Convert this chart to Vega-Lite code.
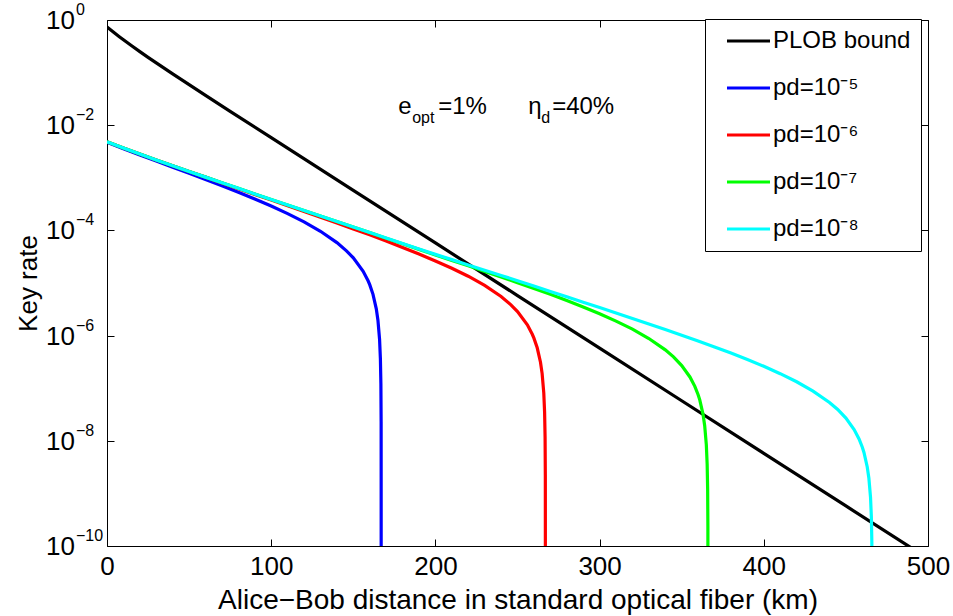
{
  "$schema": "https://vega.github.io/schema/vega-lite/v6.json",
  "width": 821,
  "height": 526,
  "autosize": {"type": "none"},
  "padding": {"left": 107, "top": 20, "right": 25, "bottom": 70},
  "background": "white",
  "config": {
    "font": "Liberation Sans",
    "view": {"stroke": "black", "strokeWidth": 1},
    "axis": {"grid": false, "domain": false, "tickColor": "black", "labelColor": "black", "titleColor": "black", "titleFontWeight": "normal", "labelFont": "Liberation Sans", "titleFont": "Liberation Sans"}
  },
  "datasets": {
    "curves": [
      {"s": "PLOB bound", "L": 0, "r": 0.737},
      {"s": "PLOB bound", "L": 2.5, "r": 0.636},
      {"s": "PLOB bound", "L": 5, "r": 0.5516},
      {"s": "PLOB bound", "L": 7.5, "r": 0.4804},
      {"s": "PLOB bound", "L": 10, "r": 0.4196},
      {"s": "PLOB bound", "L": 15, "r": 0.3229},
      {"s": "PLOB bound", "L": 20, "r": 0.2502},
      {"s": "PLOB bound", "L": 25, "r": 0.1951},
      {"s": "PLOB bound", "L": 30, "r": 0.1528},
      {"s": "PLOB bound", "L": 40, "r": 0.0945},
      {"s": "PLOB bound", "L": 50, "r": 0.0589},
      {"s": "PLOB bound", "L": 60, "r": 0.03688},
      {"s": "PLOB bound", "L": 75, "r": 0.01837},
      {"s": "PLOB bound", "L": 100, "r": 0.005782},
      {"s": "PLOB bound", "L": 150, "r": 5.771e-4},
      {"s": "PLOB bound", "L": 200, "r": 5.771e-5},
      {"s": "PLOB bound", "L": 250, "r": 5.771e-6},
      {"s": "PLOB bound", "L": 300, "r": 5.771e-7},
      {"s": "PLOB bound", "L": 350, "r": 5.771e-8},
      {"s": "PLOB bound", "L": 400, "r": 5.771e-9},
      {"s": "PLOB bound", "L": 450, "r": 5.771e-10},
      {"s": "PLOB bound", "L": 500, "r": 5.771e-11},

      {"s": "pd=10⁻⁵", "L": 0, "r": 4.710e-3},
      {"s": "pd=10⁻⁵", "L": 10, "r": 3.565e-3},
      {"s": "pd=10⁻⁵", "L": 20, "r": 2.716e-3},
      {"s": "pd=10⁻⁵", "L": 30, "r": 2.080e-3},
      {"s": "pd=10⁻⁵", "L": 40, "r": 1.589e-3},
      {"s": "pd=10⁻⁵", "L": 50, "r": 1.216e-3},
      {"s": "pd=10⁻⁵", "L": 60, "r": 9.268e-4},
      {"s": "pd=10⁻⁵", "L": 70, "r": 7.031e-4},
      {"s": "pd=10⁻⁵", "L": 80, "r": 5.309e-4},
      {"s": "pd=10⁻⁵", "L": 90, "r": 3.954e-4},
      {"s": "pd=10⁻⁵", "L": 100, "r": 2.904e-4},
      {"s": "pd=10⁻⁵", "L": 110, "r": 2.089e-4},
      {"s": "pd=10⁻⁵", "L": 120, "r": 1.455e-4},
      {"s": "pd=10⁻⁵", "L": 130, "r": 9.638e-5},
      {"s": "pd=10⁻⁵", "L": 140, "r": 5.861e-5},
      {"s": "pd=10⁻⁵", "L": 146, "r": 4.050e-5},
      {"s": "pd=10⁻⁵", "L": 150, "r": 3.006e-5},
      {"s": "pd=10⁻⁵", "L": 156, "r": 1.671e-5},
      {"s": "pd=10⁻⁵", "L": 159, "r": 1.103e-5},
      {"s": "pd=10⁻⁵", "L": 160, "r": 9.311e-6},
      {"s": "pd=10⁻⁵", "L": 162, "r": 6.081e-6},
      {"s": "pd=10⁻⁵", "L": 164, "r": 3.221e-6},
      {"s": "pd=10⁻⁵", "L": 165, "r": 1.963e-6},
      {"s": "pd=10⁻⁵", "L": 166, "r": 8.453e-7},
      {"s": "pd=10⁻⁵", "L": 166.5, "r": 3.656e-7},
      {"s": "pd=10⁻⁵", "L": 166.8, "r": 1.216e-7},
      {"s": "pd=10⁻⁵", "L": 166.95, "r": 2.301e-8},
      {"s": "pd=10⁻⁵", "L": 167, "r": 1e-12},

      {"s": "pd=10⁻⁶", "L": 0, "r": 4.831e-3},
      {"s": "pd=10⁻⁶", "L": 10, "r": 3.690e-3},
      {"s": "pd=10⁻⁶", "L": 20, "r": 2.832e-3},
      {"s": "pd=10⁻⁶", "L": 30, "r": 2.188e-3},
      {"s": "pd=10⁻⁶", "L": 40, "r": 1.698e-3},
      {"s": "pd=10⁻⁶", "L": 50, "r": 1.321e-3},
      {"s": "pd=10⁻⁶", "L": 60, "r": 1.030e-3},
      {"s": "pd=10⁻⁶", "L": 70, "r": 7.962e-4},
      {"s": "pd=10⁻⁶", "L": 80, "r": 6.209e-4},
      {"s": "pd=10⁻⁶", "L": 90, "r": 4.842e-4},
      {"s": "pd=10⁻⁶", "L": 100, "r": 3.784e-4},
      {"s": "pd=10⁻⁶", "L": 110, "r": 2.951e-4},
      {"s": "pd=10⁻⁶", "L": 120, "r": 2.296e-4},
      {"s": "pd=10⁻⁶", "L": 130, "r": 1.786e-4},
      {"s": "pd=10⁻⁶", "L": 140, "r": 1.384e-4},
      {"s": "pd=10⁻⁶", "L": 150, "r": 1.069e-4},
      {"s": "pd=10⁻⁶", "L": 160, "r": 8.222e-5},
      {"s": "pd=10⁻⁶", "L": 170, "r": 6.281e-5},
      {"s": "pd=10⁻⁶", "L": 180, "r": 4.753e-5},
      {"s": "pd=10⁻⁶", "L": 190, "r": 3.556e-5},
      {"s": "pd=10⁻⁶", "L": 200, "r": 2.624e-5},
      {"s": "pd=10⁻⁶", "L": 210, "r": 1.910e-5},
      {"s": "pd=10⁻⁶", "L": 220, "r": 1.346e-5},
      {"s": "pd=10⁻⁶", "L": 230, "r": 8.995e-6},
      {"s": "pd=10⁻⁶", "L": 240, "r": 5.534e-6},
      {"s": "pd=10⁻⁶", "L": 246, "r": 3.846e-6},
      {"s": "pd=10⁻⁶", "L": 250, "r": 2.864e-6},
      {"s": "pd=10⁻⁶", "L": 256, "r": 1.600e-6},
      {"s": "pd=10⁻⁶", "L": 259, "r": 1.059e-6},
      {"s": "pd=10⁻⁶", "L": 260, "r": 8.954e-7},
      {"s": "pd=10⁻⁶", "L": 262, "r": 5.861e-7},
      {"s": "pd=10⁻⁶", "L": 264, "r": 3.112e-7},
      {"s": "pd=10⁻⁶", "L": 265, "r": 1.897e-7},
      {"s": "pd=10⁻⁶", "L": 266, "r": 8.185e-8},
      {"s": "pd=10⁻⁶", "L": 266.5, "r": 3.540e-8},
      {"s": "pd=10⁻⁶", "L": 266.8, "r": 1.178e-8},
      {"s": "pd=10⁻⁶", "L": 266.95, "r": 2.228e-9},
      {"s": "pd=10⁻⁶", "L": 267, "r": 1e-12},

      {"s": "pd=10⁻⁷", "L": 0, "r": 4.831e-3},
      {"s": "pd=10⁻⁷", "L": 10, "r": 3.690e-3},
      {"s": "pd=10⁻⁷", "L": 20, "r": 2.832e-3},
      {"s": "pd=10⁻⁷", "L": 30, "r": 2.188e-3},
      {"s": "pd=10⁻⁷", "L": 40, "r": 1.698e-3},
      {"s": "pd=10⁻⁷", "L": 50, "r": 1.321e-3},
      {"s": "pd=10⁻⁷", "L": 60, "r": 1.030e-3},
      {"s": "pd=10⁻⁷", "L": 70, "r": 8.054e-4},
      {"s": "pd=10⁻⁷", "L": 80, "r": 6.310e-4},
      {"s": "pd=10⁻⁷", "L": 90, "r": 4.943e-4},
      {"s": "pd=10⁻⁷", "L": 100, "r": 3.882e-4},
      {"s": "pd=10⁻⁷", "L": 110, "r": 3.048e-4},
      {"s": "pd=10⁻⁷", "L": 120, "r": 2.393e-4},
      {"s": "pd=10⁻⁷", "L": 130, "r": 1.879e-4},
      {"s": "pd=10⁻⁷", "L": 140, "r": 1.479e-4},
      {"s": "pd=10⁻⁷", "L": 150, "r": 1.161e-4},
      {"s": "pd=10⁻⁷", "L": 160, "r": 9.141e-5},
      {"s": "pd=10⁻⁷", "L": 170, "r": 7.096e-5},
      {"s": "pd=10⁻⁷", "L": 180, "r": 5.559e-5},
      {"s": "pd=10⁻⁷", "L": 190, "r": 4.355e-5},
      {"s": "pd=10⁻⁷", "L": 200, "r": 3.412e-5},
      {"s": "pd=10⁻⁷", "L": 210, "r": 2.692e-5},
      {"s": "pd=10⁻⁷", "L": 220, "r": 2.118e-5},
      {"s": "pd=10⁻⁷", "L": 230, "r": 1.663e-5},
      {"s": "pd=10⁻⁷", "L": 240, "r": 1.303e-5},
      {"s": "pd=10⁻⁷", "L": 250, "r": 1.016e-5},
      {"s": "pd=10⁻⁷", "L": 260, "r": 7.889e-6},
      {"s": "pd=10⁻⁷", "L": 270, "r": 6.081e-6},
      {"s": "pd=10⁻⁷", "L": 280, "r": 4.645e-6},
      {"s": "pd=10⁻⁷", "L": 290, "r": 3.508e-6},
      {"s": "pd=10⁻⁷", "L": 300, "r": 2.606e-6},
      {"s": "pd=10⁻⁷", "L": 310, "r": 1.888e-6},
      {"s": "pd=10⁻⁷", "L": 320, "r": 1.324e-6},
      {"s": "pd=10⁻⁷", "L": 330, "r": 8.810e-7},
      {"s": "pd=10⁻⁷", "L": 340, "r": 5.358e-7},
      {"s": "pd=10⁻⁷", "L": 345, "r": 3.936e-7},
      {"s": "pd=10⁻⁷", "L": 350, "r": 2.698e-7},
      {"s": "pd=10⁻⁷", "L": 355, "r": 1.637e-7},
      {"s": "pd=10⁻⁷", "L": 358, "r": 1.084e-7},
      {"s": "pd=10⁻⁷", "L": 360, "r": 7.534e-8},
      {"s": "pd=10⁻⁷", "L": 361, "r": 5.998e-8},
      {"s": "pd=10⁻⁷", "L": 363, "r": 3.184e-8},
      {"s": "pd=10⁻⁷", "L": 364, "r": 1.941e-8},
      {"s": "pd=10⁻⁷", "L": 365, "r": 8.375e-9},
      {"s": "pd=10⁻⁷", "L": 365.5, "r": 3.622e-9},
      {"s": "pd=10⁻⁷", "L": 365.8, "r": 1.205e-9},
      {"s": "pd=10⁻⁷", "L": 365.95, "r": 2.29e-10},
      {"s": "pd=10⁻⁷", "L": 366, "r": 1e-12},

      {"s": "pd=10⁻⁸", "L": 0, "r": 4.831e-3},
      {"s": "pd=10⁻⁸", "L": 10, "r": 3.690e-3},
      {"s": "pd=10⁻⁸", "L": 20, "r": 2.832e-3},
      {"s": "pd=10⁻⁸", "L": 30, "r": 2.188e-3},
      {"s": "pd=10⁻⁸", "L": 40, "r": 1.698e-3},
      {"s": "pd=10⁻⁸", "L": 50, "r": 1.321e-3},
      {"s": "pd=10⁻⁸", "L": 60, "r": 1.030e-3},
      {"s": "pd=10⁻⁸", "L": 70, "r": 8.054e-4},
      {"s": "pd=10⁻⁸", "L": 80, "r": 6.310e-4},
      {"s": "pd=10⁻⁸", "L": 90, "r": 4.943e-4},
      {"s": "pd=10⁻⁸", "L": 100, "r": 3.882e-4},
      {"s": "pd=10⁻⁸", "L": 110, "r": 3.048e-4},
      {"s": "pd=10⁻⁸", "L": 120, "r": 2.393e-4},
      {"s": "pd=10⁻⁸", "L": 130, "r": 1.879e-4},
      {"s": "pd=10⁻⁸", "L": 140, "r": 1.479e-4},
      {"s": "pd=10⁻⁸", "L": 150, "r": 1.161e-4},
      {"s": "pd=10⁻⁸", "L": 160, "r": 9.141e-5},
      {"s": "pd=10⁻⁸", "L": 170, "r": 7.194e-5},
      {"s": "pd=10⁻⁸", "L": 180, "r": 5.662e-5},
      {"s": "pd=10⁻⁸", "L": 190, "r": 4.446e-5},
      {"s": "pd=10⁻⁸", "L": 200, "r": 3.499e-5},
      {"s": "pd=10⁻⁸", "L": 210, "r": 2.780e-5},
      {"s": "pd=10⁻⁸", "L": 220, "r": 2.208e-5},
      {"s": "pd=10⁻⁸", "L": 230, "r": 1.754e-5},
      {"s": "pd=10⁻⁸", "L": 240, "r": 1.393e-5},
      {"s": "pd=10⁻⁸", "L": 250, "r": 1.107e-5},
      {"s": "pd=10⁻⁸", "L": 260, "r": 8.790e-6},
      {"s": "pd=10⁻⁸", "L": 270, "r": 6.902e-6},
      {"s": "pd=10⁻⁸", "L": 280, "r": 5.458e-6},
      {"s": "pd=10⁻⁸", "L": 290, "r": 4.315e-6},
      {"s": "pd=10⁻⁸", "L": 300, "r": 3.412e-6},
      {"s": "pd=10⁻⁸", "L": 310, "r": 2.692e-6},
      {"s": "pd=10⁻⁸", "L": 320, "r": 2.118e-6},
      {"s": "pd=10⁻⁸", "L": 330, "r": 1.663e-6},
      {"s": "pd=10⁻⁸", "L": 340, "r": 1.303e-6},
      {"s": "pd=10⁻⁸", "L": 350, "r": 1.016e-6},
      {"s": "pd=10⁻⁸", "L": 360, "r": 7.889e-7},
      {"s": "pd=10⁻⁸", "L": 370, "r": 6.081e-7},
      {"s": "pd=10⁻⁸", "L": 380, "r": 4.645e-7},
      {"s": "pd=10⁻⁸", "L": 390, "r": 3.508e-7},
      {"s": "pd=10⁻⁸", "L": 400, "r": 2.606e-7},
      {"s": "pd=10⁻⁸", "L": 410, "r": 1.888e-7},
      {"s": "pd=10⁻⁸", "L": 420, "r": 1.324e-7},
      {"s": "pd=10⁻⁸", "L": 430, "r": 8.810e-8},
      {"s": "pd=10⁻⁸", "L": 440, "r": 5.358e-8},
      {"s": "pd=10⁻⁸", "L": 445, "r": 3.936e-8},
      {"s": "pd=10⁻⁸", "L": 450, "r": 2.698e-8},
      {"s": "pd=10⁻⁸", "L": 455, "r": 1.637e-8},
      {"s": "pd=10⁻⁸", "L": 458, "r": 1.084e-8},
      {"s": "pd=10⁻⁸", "L": 460, "r": 7.534e-9},
      {"s": "pd=10⁻⁸", "L": 461, "r": 5.998e-9},
      {"s": "pd=10⁻⁸", "L": 463, "r": 3.184e-9},
      {"s": "pd=10⁻⁸", "L": 464, "r": 1.941e-9},
      {"s": "pd=10⁻⁸", "L": 465, "r": 8.375e-10},
      {"s": "pd=10⁻⁸", "L": 465.5, "r": 3.622e-10},
      {"s": "pd=10⁻⁸", "L": 465.8, "r": 1.205e-10},
      {"s": "pd=10⁻⁸", "L": 465.95, "r": 2.29e-11},
      {"s": "pd=10⁻⁸", "L": 466, "r": 1e-12}
    ],
    "yticks": [
      {"v": 1, "e": "0"},
      {"v": 0.01, "e": "−2"},
      {"v": 0.0001, "e": "−4"},
      {"v": 1e-6, "e": "−6"},
      {"v": 1e-8, "e": "−8"},
      {"v": 1e-10, "e": "−10"}
    ]
  },
  "resolve": {"axis": {"x": "independent", "y": "independent"}},
  "layer": [
    {
      "data": {"name": "curves"},
      "mark": {"type": "line", "clip": true, "strokeWidth": 3.2, "interpolate": "linear"},
      "encoding": {
        "x": {
          "field": "L", "type": "quantitative",
          "scale": {"domain": [0, 500], "nice": false, "zero": false},
          "axis": {
            "orient": "bottom",
            "values": [0, 100, 200, 300, 400, 500],
            "tickSize": -7, "labelPadding": 14, "labelFontSize": 26, "labelFlush": false, "labelOverlap": false,
            "title": "Alice−Bob distance in standard optical fiber (km)",
            "titleFontSize": 28, "titleY": 62, "titleBaseline": "alphabetic"
          }
        },
        "y": {
          "field": "r", "type": "quantitative",
          "scale": {"type": "log", "domain": [1e-10, 1], "nice": false},
          "axis": {
            "orient": "left",
            "values": [1e-10, 1e-8, 1e-6, 1e-4, 1e-2, 1],
            "labels": false, "tickSize": -7,
            "title": "Key rate", "titleFontSize": 26,
            "titleX": -79, "titleY": 263, "titleAngle": -90, "titleAlign": "center", "titleBaseline": "middle"
          }
        },
        "color": {
          "field": "s", "type": "nominal", "sort": null,
          "scale": {
            "domain": ["PLOB bound", "pd=10⁻⁵", "pd=10⁻⁶", "pd=10⁻⁷", "pd=10⁻⁸"],
            "range": ["#000000", "#0000ff", "#ff0000", "#00ff00", "#00ffff"]
          },
          "legend": {
            "orient": "none", "legendX": 598, "legendY": -1,
            "title": null, "strokeColor": "black", "fillColor": "white",
            "padding": 10, "cornerRadius": 0,
            "symbolType": "M0,0H43", "symbolSize": 4, "symbolStrokeWidth": 3.2,
            "labelFontSize": 24, "labelFont": "Liberation Sans", "labelColor": "black",
            "labelOffset": 34, "labelLimit": 300, "rowPadding": 23
          }
        }
      }
    },
    {
      "data": {"name": "yticks"},
      "mark": {"type": "text", "align": "right", "baseline": "middle", "dx": -32, "dy": 1, "fontSize": 26, "font": "Liberation Sans", "color": "black"},
      "encoding": {
        "x": {"datum": 0, "type": "quantitative",
          "axis": {"orient": "top", "values": [0, 100, 200, 300, 400, 500], "labels": false, "tickSize": -7, "title": null}},
        "y": {"field": "v", "type": "quantitative",
          "axis": {"orient": "right", "values": [1e-10, 1e-8, 1e-6, 1e-4, 1e-2, 1], "labels": false, "tickSize": -7, "title": null}},
        "text": {"value": "10"}
      }
    },
    {
      "data": {"name": "yticks"},
      "mark": {"type": "text", "align": "left", "baseline": "middle", "dx": -31, "dy": -10, "fontSize": 16, "font": "Liberation Sans", "color": "black"},
      "encoding": {
        "x": {"datum": 0, "type": "quantitative", "axis": null},
        "y": {"field": "v", "type": "quantitative", "axis": null},
        "text": {"field": "e"}
      }
    },
    {
      "data": {"values": [{"t": "e"}]},
      "mark": {"type": "text", "align": "left", "baseline": "alphabetic", "fontSize": 24, "font": "Liberation Sans", "color": "black"},
      "encoding": {
        "x": {"datum": 177.3, "type": "quantitative", "axis": null},
        "y": {"datum": 0.01626, "type": "quantitative", "axis": null},
        "text": {"field": "t"}
      }
    },
    {
      "data": {"values": [{"t": "opt"}]},
      "mark": {"type": "text", "align": "left", "baseline": "alphabetic", "dx": 14, "dy": 9, "fontSize": 16, "font": "Liberation Sans", "color": "black"},
      "encoding": {
        "x": {"datum": 177.3, "type": "quantitative", "axis": null},
        "y": {"datum": 0.01626, "type": "quantitative", "axis": null},
        "text": {"field": "t"}
      }
    },
    {
      "data": {"values": [{"t": "=1%"}]},
      "mark": {"type": "text", "align": "left", "baseline": "alphabetic", "dx": 40, "fontSize": 24, "font": "Liberation Sans", "color": "black"},
      "encoding": {
        "x": {"datum": 177.3, "type": "quantitative", "axis": null},
        "y": {"datum": 0.01626, "type": "quantitative", "axis": null},
        "text": {"field": "t"}
      }
    },
    {
      "data": {"values": [{"t": "η"}]},
      "mark": {"type": "text", "align": "left", "baseline": "alphabetic", "dx": 130, "fontSize": 24, "font": "Liberation Sans", "color": "black"},
      "encoding": {
        "x": {"datum": 177.3, "type": "quantitative", "axis": null},
        "y": {"datum": 0.01626, "type": "quantitative", "axis": null},
        "text": {"field": "t"}
      }
    },
    {
      "data": {"values": [{"t": "d"}]},
      "mark": {"type": "text", "align": "left", "baseline": "alphabetic", "dx": 143, "dy": 9, "fontSize": 16, "font": "Liberation Sans", "color": "black"},
      "encoding": {
        "x": {"datum": 177.3, "type": "quantitative", "axis": null},
        "y": {"datum": 0.01626, "type": "quantitative", "axis": null},
        "text": {"field": "t"}
      }
    },
    {
      "data": {"values": [{"t": "=40%"}]},
      "mark": {"type": "text", "align": "left", "baseline": "alphabetic", "dx": 154, "fontSize": 24, "font": "Liberation Sans", "color": "black"},
      "encoding": {
        "x": {"datum": 177.3, "type": "quantitative", "axis": null},
        "y": {"datum": 0.01626, "type": "quantitative", "axis": null},
        "text": {"field": "t"}
      }
    }
  ]
}
